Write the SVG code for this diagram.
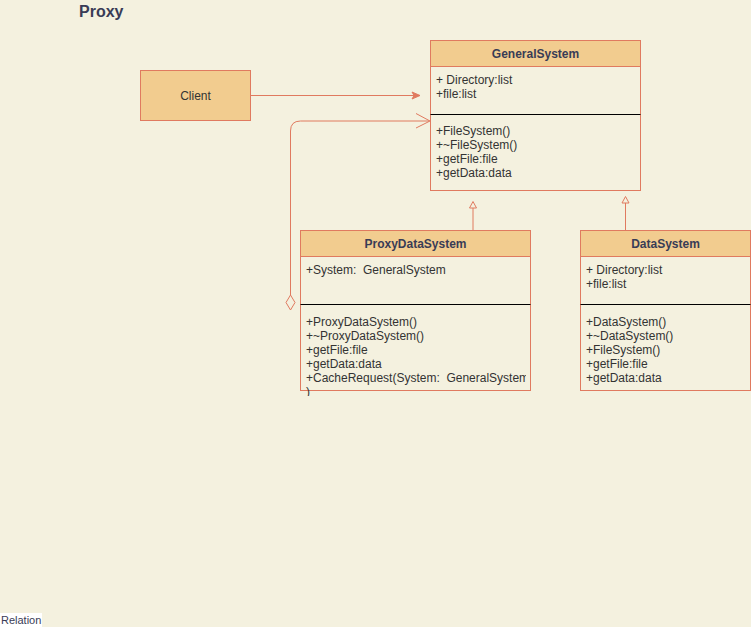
<svg xmlns="http://www.w3.org/2000/svg" width="751" height="627" viewBox="0 0 751 627">
<style>
.t{font-family:"Liberation Sans",Arial,sans-serif;font-size:12px;fill:#333333}
.h{font-family:"Liberation Sans",Arial,sans-serif;font-size:12px;font-weight:bold;fill:#393C56}
.box{fill:#F2CC8F;stroke:#E07A5F;stroke-width:1}
.body{fill:none;stroke:#E07A5F;stroke-width:1}
.sep{stroke:#000000;stroke-width:1}
.ln{fill:none;stroke:#E07A5F;stroke-width:1}
</style>
<defs>
<marker id="fill" markerWidth="10" markerHeight="10" refX="9" refY="5" orient="auto" markerUnits="userSpaceOnUse">
<path d="M1,1.5 L9,5 L1,8.5 L3,5 Z" fill="#E07A5F" stroke="#E07A5F"/>
</marker>
<clipPath id="pc"><rect x="300" y="256" width="226" height="140"/></clipPath>
</defs>
<rect width="751" height="627" fill="#F4F1DF"/>
<text x="79" y="17" font-family="'Liberation Sans',Arial,sans-serif" font-size="16" font-weight="bold" fill="#393C56">Proxy</text>

<g id="connectors">
<line class="ln" x1="250.5" y1="95.5" x2="420" y2="95.5" marker-end="url(#fill)"/>
<path class="ln" d="M290.5,295 L290.5,131 Q290.5,121 300.5,121 L429,121"/>
<path class="ln" d="M416,113.5 L430,121 L416,128"/>
<path d="M290.5,295 L295,302.5 L290.5,310 L286,302.5 Z" fill="#F4F1DF" stroke="#E07A5F"/>
<line class="ln" x1="473" y1="230" x2="473" y2="208"/>
<path d="M473,201.5 L476.5,208 L469.5,208 Z" fill="#F4F1DF" stroke="#E07A5F"/>
<line class="ln" x1="625.5" y1="230" x2="625.5" y2="203"/>
<path d="M625.5,196.5 L629,203 L622,203 Z" fill="#F4F1DF" stroke="#E07A5F"/>
</g>

<g id="client">
<rect class="box" x="140.5" y="70.5" width="110" height="50"/>
<text class="t" x="195.5" y="99.5" text-anchor="middle">Client</text>
</g>

<g id="generalsystem">
<rect class="body" x="430.5" y="40.5" width="210" height="150"/>
<rect class="box" x="430.5" y="40.5" width="210" height="26"/>
<text class="h" x="535.5" y="58" text-anchor="middle">GeneralSystem</text>
<text class="t" x="436" y="84">+ Directory:list</text>
<text class="t" x="436" y="98">+file:list</text>
<line class="sep" x1="430.5" y1="114.5" x2="640.5" y2="114.5"/>
<text class="t" x="436" y="135">+FileSystem()</text>
<text class="t" x="436" y="149">+~FileSystem()</text>
<text class="t" x="436" y="163">+getFile:file</text>
<text class="t" x="436" y="177">+getData:data</text>
</g>

<g id="proxydatasystem">
<rect class="body" x="300.5" y="230.5" width="230" height="160"/>
<rect class="box" x="300.5" y="230.5" width="230" height="26"/>
<text class="h" x="415.5" y="248" text-anchor="middle">ProxyDataSystem</text>
<text class="t" x="306" y="274" xml:space="preserve">+System:  GeneralSystem</text>
<line class="sep" x1="300.5" y1="304.5" x2="530.5" y2="304.5"/>
<text class="t" x="306" y="326">+ProxyDataSystem()</text>
<text class="t" x="306" y="340">+~ProxyDataSystem()</text>
<text class="t" x="306" y="354">+getFile:file</text>
<text class="t" x="306" y="368">+getData:data</text>
<g clip-path="url(#pc)">
<text class="t" x="306" y="382" xml:space="preserve">+CacheRequest(System:  GeneralSystem</text>
<text class="t" x="306" y="396">)</text>
</g>
</g>

<g id="datasystem">
<rect class="body" x="580.5" y="230.5" width="170" height="160"/>
<rect class="box" x="580.5" y="230.5" width="170" height="26"/>
<text class="h" x="665.5" y="248" text-anchor="middle">DataSystem</text>
<text class="t" x="586" y="274">+ Directory:list</text>
<text class="t" x="586" y="288">+file:list</text>
<line class="sep" x1="580.5" y1="304.5" x2="750.5" y2="304.5"/>
<text class="t" x="586" y="326">+DataSystem()</text>
<text class="t" x="586" y="340">+~DataSystem()</text>
<text class="t" x="586" y="354">+FileSystem()</text>
<text class="t" x="586" y="368">+getFile:file</text>
<text class="t" x="586" y="382">+getData:data</text>
</g>

<rect x="0" y="613" width="42" height="14" fill="#FFFFFF"/>
<text x="1" y="624" font-family="'Liberation Sans',Arial,sans-serif" font-size="11" fill="#393C56">Relation</text>
</svg>
